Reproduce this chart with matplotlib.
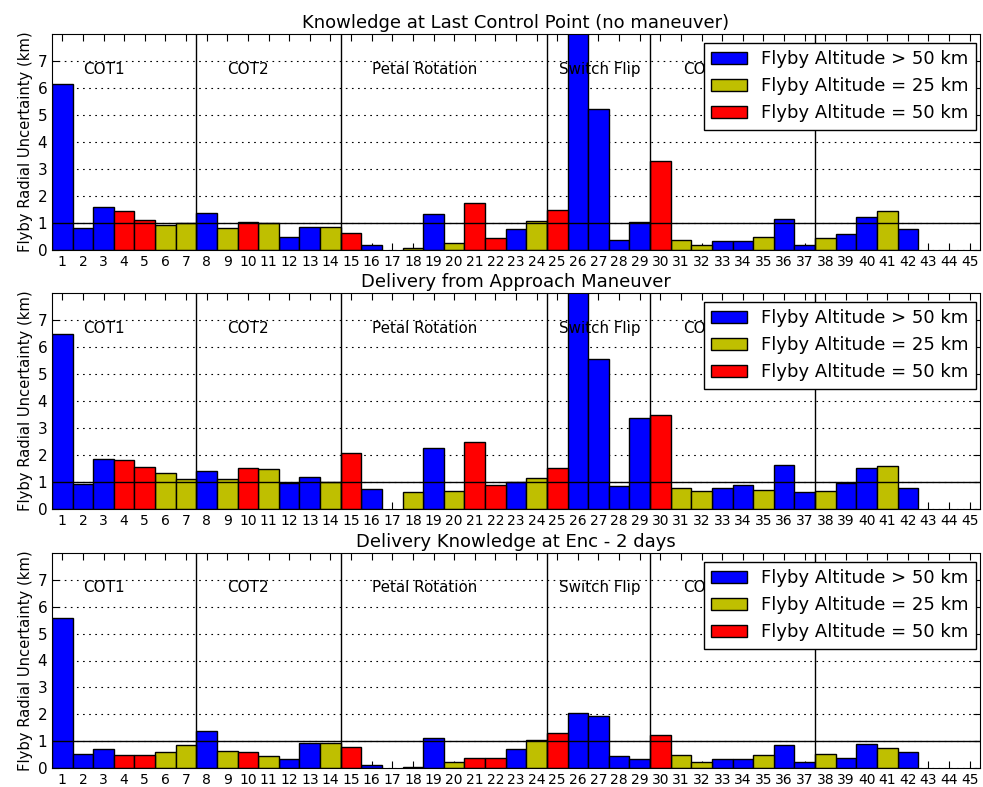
import numpy as np
import matplotlib
matplotlib.use("Agg")
import matplotlib.pyplot as plt

# casos 1..45, la categoria de altitud de cada sobrevuelo
# B: > 50 km, Y: = 25 km, R: = 50 km, '-': sin dato
categorias = ['B', 'B', 'B', 'R', 'R', 'Y', 'Y', 'B', 'Y', 'R',
              'Y', 'B', 'B', 'Y', 'R', 'B', '-', 'Y', 'B', 'Y',
              'R', 'R', 'B', 'Y', 'R', 'B', 'B', 'B', 'B', 'R',
              'Y', 'Y', 'B', 'B', 'Y', 'B', 'B', 'Y', 'B', 'B',
              'Y', 'B', '-', '-', '-']

ultimo_control = [6.15, 0.80, 1.59, 1.44, 1.11, 0.91, 0.99, 1.37, 0.80, 1.04,
                  0.99, 0.48, 0.84, 0.86, 0.63, 0.20, 0.0, 0.09, 1.32, 0.25,
                  1.73, 0.43, 0.77, 1.07, 1.47, 8.6, 5.23, 0.36, 1.04, 3.31,
                  0.36, 0.19, 0.32, 0.32, 0.47, 1.15, 0.20, 0.43, 0.59, 1.23,
                  1.44, 0.77, 0.0, 0.0, 0.0]

maniobra_aprox = [6.48, 0.94, 1.85, 1.80, 1.56, 1.32, 1.11, 1.41, 1.11, 1.52,
                  1.48, 0.98, 1.20, 1.00, 2.09, 0.73, 0.0, 0.63, 2.25, 0.68,
                  2.48, 0.88, 1.00, 1.15, 1.52, 9.0, 5.56, 0.84, 3.36, 3.48,
                  0.79, 0.68, 0.79, 0.88, 0.72, 1.64, 0.64, 0.68, 0.98, 1.52,
                  1.59, 0.79, 0.0, 0.0, 0.0]

enc_2dias = [5.57, 0.52, 0.69, 0.48, 0.48, 0.59, 0.84, 1.37, 0.64, 0.60,
             0.44, 0.32, 0.93, 0.93, 0.77, 0.12, 0.0, 0.05, 1.12, 0.23,
             0.36, 0.36, 0.69, 1.04, 1.32, 2.05, 1.93, 0.44, 0.32, 1.23,
             0.48, 0.23, 0.32, 0.32, 0.48, 0.84, 0.23, 0.52, 0.36, 0.88,
             0.75, 0.60, 0.0, 0.0, 0.0]

titulos = ['Knowledge at Last Control Point (no maneuver)',
           'Delivery from Approach Maneuver',
           'Delivery Knowledge at Enc - 2 days']

# fases de la trayectoria: limites y nombres (la ultima queda bajo la leyenda)
limites = [7.5, 14.5, 24.5, 29.5, 37.5]
fases = ['COT1', 'COT2', 'Petal Rotation', 'Switch Flip', 'COT3']
fases_x = [2.0, 9.0, 16.0, 25.1, 31.1]

grupos = [('B', 'b', 'Flyby Altitude > 50 km'),
          ('Y', 'y', 'Flyby Altitude = 25 km'),
          ('R', 'r', 'Flyby Altitude = 50 km')]


def graficar_panel(ax, valores, titulo):
    casos = np.arange(1, len(valores) + 1)
    valores = np.array(valores)
    cats = np.array(categorias)

    for codigo, color, etiqueta in grupos:
        m = cats == codigo
        ax.bar(casos[m], valores[m], width=1.0, color=color,
               edgecolor='k', linewidth=1, label=etiqueta, zorder=2)

    ax.axhline(1.0, color='k', linewidth=1, zorder=3)
    for x in limites:
        ax.axvline(x, color='k', linewidth=1, zorder=3)
    for x, nombre in zip(fases_x, fases):
        ax.text(x, 6.7, nombre, ha='left', va='center', fontsize=10.9, zorder=3)

    ax.set_xlim(0.5, len(valores) + 0.5)
    ax.set_ylim(0, 8)
    ax.set_xticks(casos)
    ax.set_yticks(range(0, 8))
    ax.tick_params(axis='x', labelsize=10)
    ax.tick_params(axis='y', labelsize=11)
    ax.tick_params(direction='in', top=True, right=True, length=5)
    ax.yaxis.grid(True, linestyle=(0, (1.5, 4)), color='k', linewidth=0.8)
    ax.set_axisbelow(True)
    ax.set_ylabel('Flyby Radial Uncertainty (km)', fontsize=10.6, labelpad=3)
    ax.set_title(titulo, fontsize=13, pad=4)

    leg = ax.legend(loc='upper right', bbox_to_anchor=(0.9957, 0.958),
                    borderaxespad=0, fontsize=13, fancybox=False,
                    edgecolor='k', framealpha=1, handlelength=2.0)
    leg.get_frame().set_linewidth(1)
    leg.set_zorder(5)


fig = plt.figure(figsize=(9.83, 7.87), dpi=100)
W, H = 983.0, 787.0
fondos = [250, 509, 768]
altos = [216, 216, 215]

for fondo, alto, valores, titulo in zip(fondos, altos,
                                        [ultimo_control, maniobra_aprox, enc_2dias],
                                        titulos):
    ax = fig.add_axes([52 / W, 1 - fondo / H, 928 / W, alto / H])
    graficar_panel(ax, valores, titulo)

fig.savefig('out.png', dpi=100, facecolor='white')
